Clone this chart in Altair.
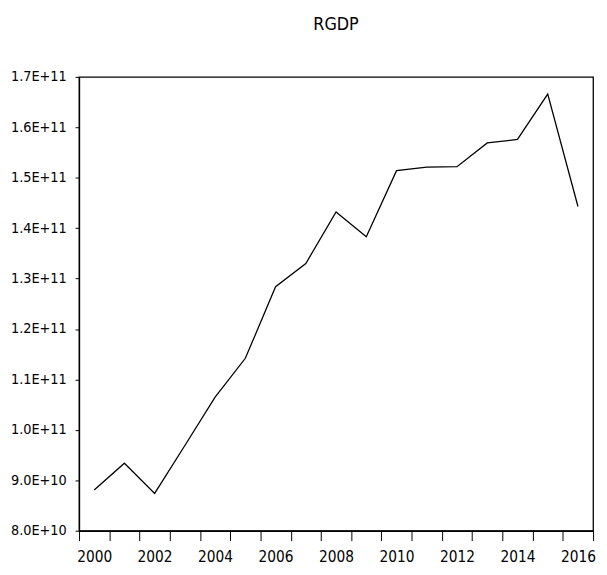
import altair as alt
import pandas as pd

years = list(range(2000, 2017))
rgdp = [8.81e10, 9.34e10, 8.74e10, 9.69e10, 1.065e11, 1.142e11, 1.284e11, 1.330e11,
        1.432e11, 1.383e11, 1.514e11, 1.521e11, 1.522e11, 1.569e11, 1.576e11,
        1.666e11, 1.443e11]
y_ticks = [8e10 + i * 1e10 for i in range(10)]
x_ticks = [1999.5 + i for i in range(18)]

df = pd.DataFrame({"year": years, "rgdp": rgdp})

FONT = "DejaVu Sans Condensed, Liberation Sans, Arial, sans-serif"

chart = alt.Chart(df).mark_line(color="black", strokeWidth=1.3).encode(
    x=alt.X("year:Q",
            scale=alt.Scale(domain=[1999.5, 2016.5], nice=False, zero=False),
            axis=alt.Axis(values=x_ticks, title=None, grid=False,
                          labelExpr="((datum.value - 1999.5) % 2 == 0 && datum.value < 2016) ? format(datum.value + 0.5, 'd') : ''",
                          labelOffset=15.3, labelFlush=False, labelOverlap=False,
                          tickSize=10, tickColor="black", domainColor="black",
                          labelFont=FONT, labelFontSize=15.5, labelColor="black",
                          labelPadding=9, tickWidth=1, domainWidth=1.3)),
    y=alt.Y("rgdp:Q",
            scale=alt.Scale(domain=[8e10, 1.7e11], nice=False, zero=False),
            axis=alt.Axis(values=y_ticks, title=None, grid=False,
                          labelExpr="upper(format(datum.value, '.1e'))",
                          labelOverlap=False, labelFlush=False,
                          tickSize=4, tickColor="black", domainColor="black",
                          labelFont=FONT, labelFontSize=14.5, labelColor="black",
                          labelPadding=9, tickWidth=1, domainWidth=1.3)),
).properties(
    width=521, height=460,
    title=alt.TitleParams("RGDP", font=FONT, fontSize=18, fontWeight="normal",
                          color="black", anchor="middle", offset=36),
    autosize=alt.AutoSizeParams(type="none"),
    padding={"left": 72, "top": 66, "right": 6, "bottom": 40},
).configure_view(stroke="black", strokeWidth=1.3)

chart.save("out.html", embed_options={"renderer": "svg", "actions": False})
